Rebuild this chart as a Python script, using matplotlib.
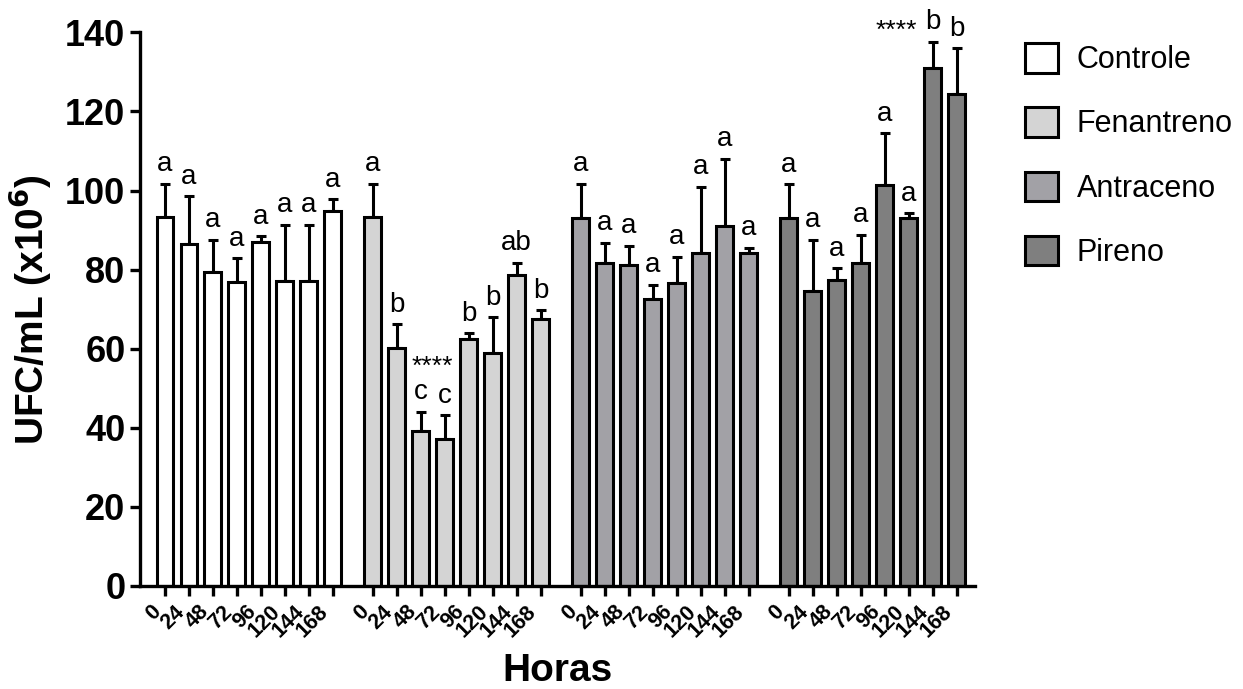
import numpy as np
import matplotlib.pyplot as plt
import matplotlib.transforms as mtransforms

plt.rcParams['font.family'] = ['Liberation Sans', 'DejaVu Sans']

horas = ['0', '24', '48', '72', '96', '120', '144', '168']
grupos = ['Controle', 'Fenantreno', 'Antraceno', 'Pireno']
cores = ['#ffffff', '#d4d4d4', '#a2a1a6', '#7f7f7f']

# media e topo da barra de erro (UFC/mL x10^6)
controle = [93.2, 86.6, 79.5, 76.8, 86.9, 77.2, 77.2, 94.8]
controle_err = [101.7, 98.5, 87.5, 82.9, 88.5, 91.3, 91.3, 97.8]
fenantreno = [93.2, 60.1, 39.1, 37.1, 62.4, 59.0, 78.7, 67.5]
fenantreno_err = [101.7, 66.2, 44.1, 43.2, 63.9, 67.9, 81.8, 69.7]
antraceno = [93.0, 81.6, 81.3, 72.6, 76.6, 84.2, 91.0, 84.2]
antraceno_err = [101.7, 86.8, 86.0, 76.2, 83.2, 101.0, 108.0, 85.5]
pireno = [93.0, 74.5, 77.4, 81.7, 101.4, 93.0, 130.9, 124.3]
pireno_err = [101.6, 87.6, 80.3, 88.8, 114.5, 94.2, 137.6, 136.0]

letras_controle = ['a'] * 8
letras_fenantreno = ['a', 'b', 'c', 'c', 'b', 'b', 'ab', 'b']
letras_antraceno = ['a'] * 8
letras_pireno = ['a', 'a', 'a', 'a', 'a', 'a', 'b', 'b']

medias = [controle, fenantreno, antraceno, pireno]
erros = [controle_err, fenantreno_err, antraceno_err, pireno_err]
letras = [letras_controle, letras_fenantreno, letras_antraceno, letras_pireno]

passo = 8 + 2 / 3  # espaco entre grupos

fig = plt.figure(figsize=(12.43, 6.89), dpi=100)
ax = fig.add_axes([0.1126, 0.1495, 0.6714, 0.8035])

todos_x = []
for g in range(4):
    x = g * passo + np.arange(8)
    todos_x.extend(x)
    m = np.array(medias[g])
    e = np.array(erros[g]) - m
    ax.errorbar(x, m, yerr=[np.zeros(8), e], fmt='none', ecolor='black',
                elinewidth=2.2, capsize=3.5, capthick=2.2, zorder=1)
    ax.bar(x, m, width=0.7, color=cores[g], edgecolor='black', linewidth=2.2,
           label=grupos[g], zorder=2)
    for xi, top, lt in zip(x, erros[g], letras[g]):
        ax.annotate(lt, (xi, top), xytext=(0, 9), textcoords='offset points',
                    ha='center', va='baseline', fontsize=20)

# asteriscos
ax.text(passo + 2.5, 55.5, '****', ha='center', va='center', fontsize=19)
ax.text(3 * passo + 4.5, 140.5, '****', ha='center', va='center', fontsize=19,
        clip_on=False)

ax.set_xticks(todos_x)
ax.set_xticklabels(horas * 4, rotation=45, ha='right', fontsize=15.5,
                   fontweight='bold')
# empurra os rotulos um pouco para a direita
desloc = mtransforms.ScaledTranslation(5 / 100, 0, fig.dpi_scale_trans)
for t in ax.get_xticklabels():
    t.set_transform(t.get_transform() + desloc)
ax.set_xlim(-1.04, 3 * passo + 7.75)
ax.set_ylim(0, 140)
ax.set_yticks(np.arange(0, 141, 20))
for t in ax.get_yticklabels():
    t.set_fontsize(26)
    t.set_fontweight('bold')

ax.spines['top'].set_visible(False)
ax.spines['right'].set_visible(False)
ax.spines['left'].set_linewidth(2.4)
ax.spines['bottom'].set_linewidth(2.4)
ax.tick_params(axis='both', direction='out', length=7, width=2.4)
ax.tick_params(axis='x', pad=4)

ax.set_ylabel('UFC/mL (x10$^{\\mathbf{6}}$)', fontsize=28, fontweight='bold',
              labelpad=8)
ax.set_xlabel('Horas', fontsize=28, fontweight='bold', labelpad=8)

leg = ax.legend(loc='upper left', bbox_to_anchor=(1.027, 1.03), frameon=False,
                fontsize=22, handlelength=1.1, handleheight=1.1,
                labelspacing=1.05, handletextpad=0.6)
for p in leg.get_patches():
    p.set_linewidth(2.2)

plt.savefig('out.png', dpi=100)
